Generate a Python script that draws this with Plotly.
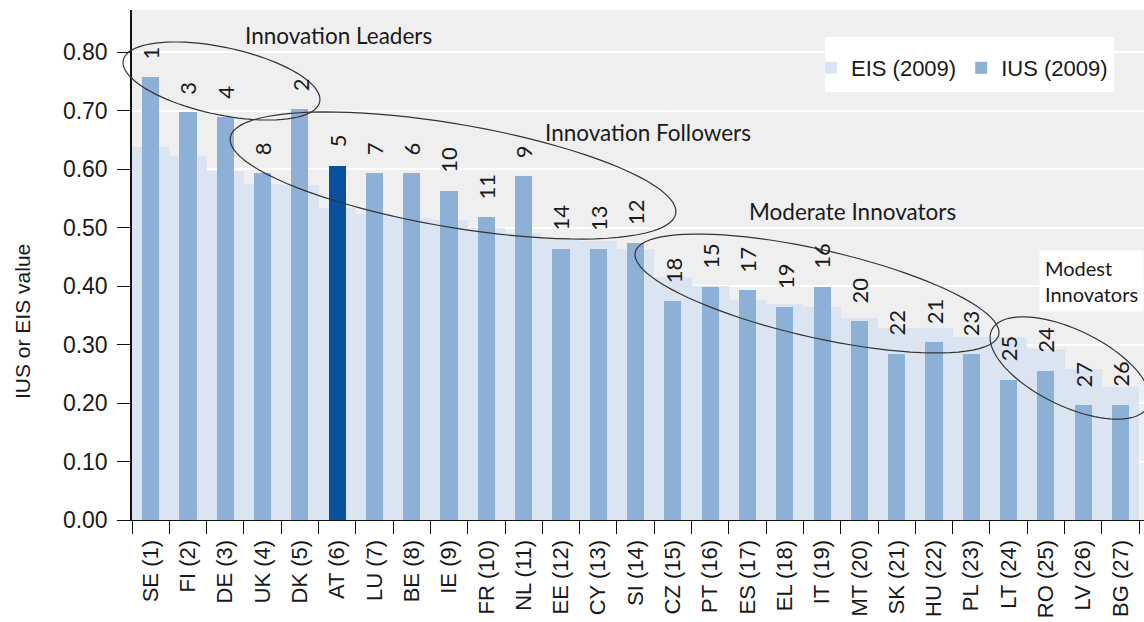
import math
import plotly.graph_objects as go

# ---------------- data ----------------
countries = ["SE (1)", "FI (2)", "DE (3)", "UK (4)", "DK (5)", "AT (6)", "LU (7)", "BE (8)",
             "IE (9)", "FR (10)", "NL (11)", "EE (12)", "CY (13)", "SI (14)", "CZ (15)",
             "PT (16)", "ES (17)", "EL (18)", "IT (19)", "MT (20)", "SK (21)", "HU (22)",
             "PL (23)", "LT (24)", "RO (25)", "LV (26)", "BG (27)"]
eis_2009 = [0.638, 0.623, 0.597, 0.574, 0.573, 0.533, 0.524, 0.516, 0.513, 0.499, 0.490,
            0.481, 0.477, 0.464, 0.416, 0.400, 0.376, 0.370, 0.365, 0.345, 0.329, 0.329,
            0.313, 0.313, 0.293, 0.259, 0.228]
ius_2009 = [0.757, 0.697, 0.689, 0.593, 0.703, 0.606, 0.593, 0.593, 0.563, 0.518, 0.588,
            0.464, 0.464, 0.473, 0.374, 0.399, 0.393, 0.364, 0.399, 0.340, 0.284, 0.304,
            0.284, 0.240, 0.255, 0.196, 0.196]
ius_rank = [1, 3, 4, 8, 2, 5, 7, 6, 10, 11, 9, 14, 13, 12, 18, 15, 17, 19, 16, 20, 22, 21,
            23, 25, 24, 27, 26]
highlight = "AT (6)"
group_names = ["Innovation Leaders", "Innovation Followers", "Moderate Innovators",
               "Modest<br>Innovators"]
y_ticks = [0.0, 0.1, 0.2, 0.3, 0.4, 0.5, 0.6, 0.7, 0.8]

# ---------------- layout geometry (window pixel space) ----------------
W, H = 1144, 622
L, R, T, B = 132, 1144, 10, 520   # plot area in the window
X_RANGE = [-0.5, 26.63]
Y_RANGE = [0, 0.872]

C_EIS = "#dbe5f1"
C_IUS = "#8db0d6"
C_HL = "#0a509f"
TXT = "#1a1a1a"
LBL_FONT = "Lato"


def paper(px, py):
    return (px - L) / (R - L), (B - py) / (B - T)


def ellipse_path(cx, cy, a, b, deg, n=90):
    th = math.radians(deg)
    pts = []
    for i in range(n):
        t = 2 * math.pi * i / n
        px = cx + a * math.cos(th) * math.cos(t) - b * math.sin(th) * math.sin(t)
        py = cy + a * math.sin(th) * math.cos(t) + b * math.cos(th) * math.sin(t)
        xp, yp = paper(px, py)
        pts.append(f"{xp:.5f},{yp:.5f}")
    return "M" + " L".join(pts) + " Z"


fig = go.Figure()
fig.add_trace(go.Bar(
    x=countries, y=eis_2009, name="EIS (2009)", width=1.0,
    marker=dict(color=C_EIS, line=dict(width=0)), hoverinfo="x+y"))
fig.add_trace(go.Bar(
    x=countries, y=ius_2009, name="IUS (2009)", width=0.46,
    marker=dict(color=[C_HL if c == highlight else C_IUS for c in countries],
                line=dict(width=0)), hoverinfo="x+y"))

annotations = []
for c, v, r in zip(countries, ius_2009, ius_rank):
    annotations.append(dict(x=c, y=v, xref="x", yref="y", text=str(r), showarrow=False,
                            textangle=-90, yanchor="bottom", xanchor="center", yshift=16,
                            font=dict(family=LBL_FONT, size=22, color=TXT)))

# group labels (pixel placement -> paper)
label_pos = [(338, 35, "center"), (648, 132, "center"), (852, 211, "center"), (1039, 250, "left")]
for name, (px, py, anc) in zip(group_names, label_pos):
    xp, yp = paper(px, py)
    if anc == "left":
        annotations.append(dict(x=xp, y=yp, xref="paper", yref="paper", text=name,
                                showarrow=False, xanchor="left", yanchor="top", align="left",
                                bgcolor="white", borderpad=5,
                                font=dict(family=LBL_FONT, size=20, color=TXT)))
    else:
        annotations.append(dict(x=xp, y=yp, xref="paper", yref="paper", text=name,
                                showarrow=False, xanchor="center", yanchor="middle",
                                font=dict(family=LBL_FONT, size=22.5, color=TXT)))

# y-axis title
xp, yp = paper(22, 322)
annotations.append(dict(x=xp, y=yp, xref="paper", yref="paper", text="IUS or EIS value",
                        showarrow=False, textangle=-90, xanchor="center", yanchor="middle",
                        font=dict(family="Liberation Sans", size=21, color=TXT)))

ellipses = [(221.5, 81, 100.4, 33.7, 12), (453, 175.5, 226, 51.6, 9.7),
            (817, 293.5, 186.4, 43.9, 12.8), (1070, 368, 87, 38, 26)]
shapes = [dict(type="path", path=ellipse_path(*e), xref="paper", yref="paper",
               line=dict(color="#333333", width=1.2), fillcolor="rgba(0,0,0,0)", layer="above")
          for e in ellipses]

# white legend box
bx0, by0 = paper(825, 37)
bx1, by1 = paper(1114, 92)
shapes.append(dict(type="rect", x0=bx0, y0=by1, x1=bx1, y1=by0, xref="paper", yref="paper",
                   line=dict(width=0), fillcolor="white", layer="above"))

lx, ly = paper(811, 47)
fig.update_layout(
    width=W, height=H,
    margin=dict(l=L, r=W - R, t=T, b=H - B, autoexpand=False),
    paper_bgcolor="white", plot_bgcolor="#efefef",
    barmode="overlay", bargap=0,
    font=dict(family="Liberation Sans", color=TXT),
    showlegend=True,
    legend=dict(orientation="h", x=lx, y=ly, xanchor="left", yanchor="top",
                bgcolor="rgba(0,0,0,0)", font=dict(family="Liberation Sans", size=22, color=TXT),
                itemwidth=30, traceorder="normal"),
    xaxis=dict(type="category", range=X_RANGE, tickangle=-90, tickson="boundaries",
               ticks="outside", ticklen=13, tickcolor="#111", tickwidth=1.3,
               showline=True, linecolor="#111", linewidth=1.3, showgrid=False,
               ticklabelstandoff=10,
               tickfont=dict(family="Liberation Sans", size=22, color=TXT),
               automargin=False, fixedrange=True),
    yaxis=dict(range=Y_RANGE, tickvals=y_ticks, tickformat=".2f", ticks="outside",
               ticklen=13, tickcolor="#111", tickwidth=1.3, showline=True,
               linecolor="#111", linewidth=1.5, showgrid=True, gridcolor="white",
               gridwidth=2, zeroline=False, ticklabelstandoff=5,
               tickfont=dict(family="Liberation Sans", size=23, color=TXT),
               automargin=False, fixedrange=True),
    annotations=annotations,
    shapes=shapes,
)

fig.write_html(
    "out.html",
    config={"displayModeBar": False},
    post_script="document.body.style.margin='0px';"
                "document.documentElement.style.overflow='hidden';"
                "document.body.style.overflow='hidden';",
)
